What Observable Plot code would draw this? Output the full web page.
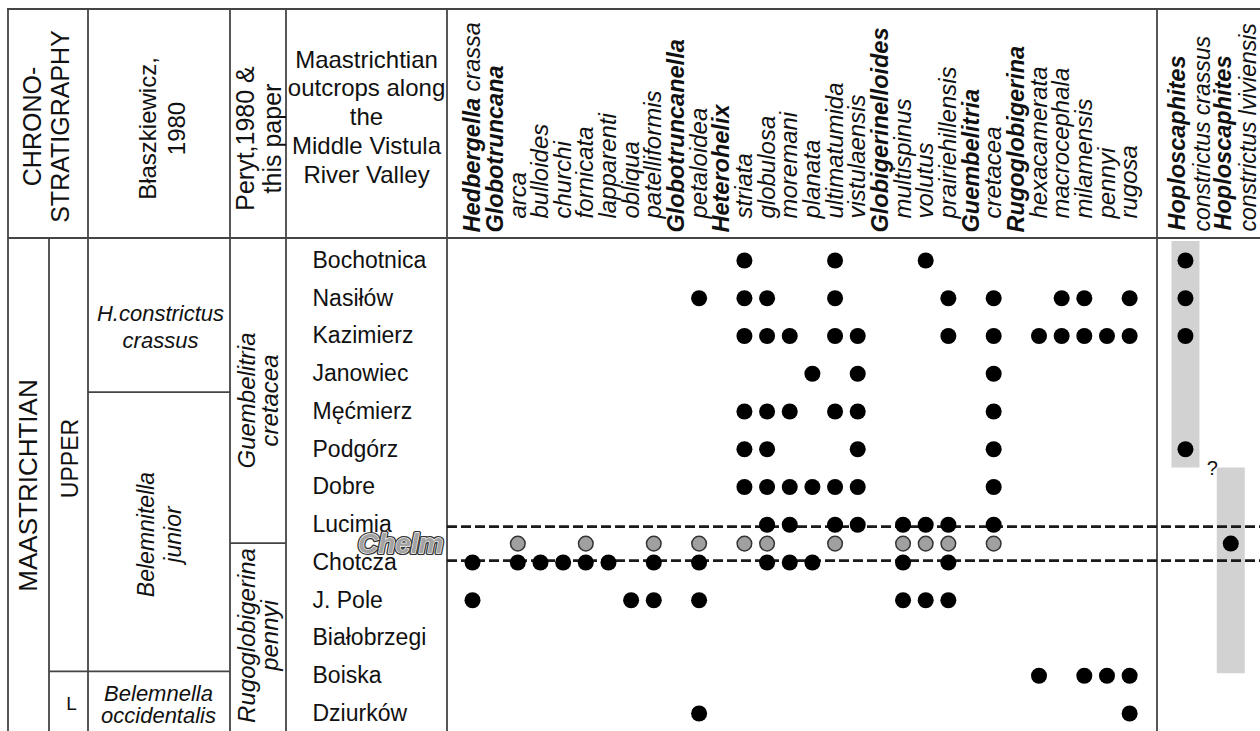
<!DOCTYPE html>
<html>
<head>
<meta charset="utf-8">
<script src="https://cdn.jsdelivr.net/npm/d3@7"></script>
<script src="https://cdn.jsdelivr.net/npm/@observablehq/plot@0.6"></script>
<style>
  html, body { margin: 0; padding: 0; background: #fff; }
  #chart { position: relative; width: 1260px; height: 731px; overflow: hidden; }
</style>
</head>
<body>
<div id="chart"></div>
<script>
// ---------------- DATA ----------------
const outcrops = ["Bochotnica", "Nasiłów", "Kazimierz", "Janowiec", "Męćmierz", "Podgórz", "Dobre",
  "Lucimia", "Chotcza", "J. Pole", "Białobrzegi", "Boiska", "Dziurków"];
const chelm = "Chelm";
const chelmBetween = ["Lucimia", "Chotcza"];
const chelmBedHalf = 0.45;

const foramColumns = ["Hedbergella crassa", "Globotruncana", "arca", "bulloides", "churchi", "fornicata",
  "lapparenti", "obliqua", "patelliformis", "Globotruncanella", "petaloidea", "Heterohelix", "striata",
  "globulosa", "moremani", "planata", "ultimatumida", "vistulaensis", "Globigerinelloides", "multispinus",
  "volutus", "prairiehillensis", "Guembelitria", "cretacea", "Rugoglobigerina", "hexacamerata",
  "macrocephala", "milamensis", "pennyi", "rugosa"];
const genera = ["Hedbergella crassa", "Globotruncana", "Globotruncanella", "Heterohelix",
  "Globigerinelloides", "Guembelitria", "Rugoglobigerina"];

const ammoniteTaxa = ["H. constrictus crassus", "H. constrictus lviviensis"];
const ammoniteGenus = ["Hoploscaphites", "Hoploscaphites"];
const ammoniteSpecies = ["constrictus crassus", "constrictus lviviensis"];

const occurrences = [
  ["Bochotnica", ["striata", "ultimatumida", "volutus"]],
  ["Nasiłów", ["petaloidea", "striata", "globulosa", "ultimatumida", "prairiehillensis", "cretacea", "macrocephala", "milamensis", "rugosa"]],
  ["Kazimierz", ["striata", "globulosa", "moremani", "ultimatumida", "vistulaensis", "prairiehillensis", "cretacea", "hexacamerata", "macrocephala", "milamensis", "pennyi", "rugosa"]],
  ["Janowiec", ["planata", "vistulaensis", "cretacea"]],
  ["Męćmierz", ["striata", "globulosa", "moremani", "ultimatumida", "vistulaensis", "cretacea"]],
  ["Podgórz", ["striata", "globulosa", "vistulaensis", "cretacea"]],
  ["Dobre", ["striata", "globulosa", "moremani", "planata", "ultimatumida", "vistulaensis", "cretacea"]],
  ["Lucimia", ["globulosa", "moremani", "ultimatumida", "vistulaensis", "multispinus", "volutus", "prairiehillensis", "cretacea"]],
  ["Chotcza", ["Hedbergella crassa", "arca", "bulloides", "churchi", "fornicata", "lapparenti", "patelliformis", "petaloidea", "globulosa", "moremani", "planata", "multispinus", "prairiehillensis"]],
  ["J. Pole", ["Hedbergella crassa", "obliqua", "patelliformis", "petaloidea", "multispinus", "volutus", "prairiehillensis"]],
  ["Białobrzegi", []],
  ["Boiska", ["hexacamerata", "milamensis", "pennyi", "rugosa"]],
  ["Dziurków", ["petaloidea", "rugosa"]]
];
const chelmForams = ["arca", "fornicata", "patelliformis", "petaloidea", "striata", "globulosa",
  "ultimatumida", "multispinus", "volutus", "prairiehillensis", "cretacea"];

const ammoniteOccurrences = [
  {site: "Bochotnica", taxon: ammoniteTaxa[0]},
  {site: "Nasiłów", taxon: ammoniteTaxa[0]},
  {site: "Kazimierz", taxon: ammoniteTaxa[0]},
  {site: "Podgórz", taxon: ammoniteTaxa[0]},
  {site: "Chelm", taxon: ammoniteTaxa[1]}
];
// ranges in row levels (0 = Bochotnica ... 12 = Dziurków)
const ammoniteRanges = [
  {taxon: ammoniteTaxa[0], from: -0.5, to: 5.5, query: false},
  {taxon: ammoniteTaxa[1], from: 5.5, to: 10.95, query: true}
];
// zone boundaries (row levels)
const zoneBoundaries = {crassusJunior: 3.5, juniorOccidentalis: 10.9, guembelitriaRugoglobigerina: 7.5};

// ---------------- LAYOUT ----------------
const W = 1260, H = 731;
const L = {top: 9, headerBottom: 238, cLeft: 8, cUpper: 49, cBlasz: 88, cPeryt: 230, cOut: 286, cSpecies: 447, cAmmo: 1157};
const lineColor = "#444";
const font = "'Liberation Sans', Arial, Helvetica, sans-serif";

const rowOf = name => name === chelm
  ? d3.mean(chelmBetween, s => outcrops.indexOf(s))
  : outcrops.indexOf(name);

const dots = occurrences.flatMap(([site, taxa]) => taxa.map(taxon => ({site, taxon})));
const xDomain = [...foramColumns, "sep", ammoniteTaxa[0], "gap", ammoniteTaxa[1]];
const step = 22.66, x0 = 472;

const note = (text, x, y, o = {}) => Plot.text([text], {
  frameAnchor: "top-left", dx: x, dy: y, text: d => d, fontSize: 23, fill: "#111",
  textAnchor: "middle", lineAnchor: "middle", ...o
});

const plot = Plot.plot({
  width: W, height: H, margin: 0,
  x: {type: "point", domain: xDomain, padding: 0, round: false,
      range: [x0, x0 + (xDomain.length - 1) * step], axis: null},
  y: {domain: [-6.887, 12.477], range: [0, H], axis: null},
  style: {fontFamily: font, background: "white", overflow: "visible"},
  marks: [
    // ammonite ranges
    Plot.ruleX(ammoniteRanges, {x: "taxon", y1: "from", y2: "to", dx: 10.5, stroke: "#d2d2d2", strokeWidth: 28}),
    Plot.text(ammoniteRanges.filter(d => d.query), {x: "taxon", y: "from", dx: -8, text: () => "?", fontSize: 20, fill: "#111"}),
    // Chelm bed boundaries
    Plot.ruleY([rowOf(chelm) - chelmBedHalf, rowOf(chelm) + chelmBedHalf], {
      insetLeft: L.cSpecies, stroke: "#1a1a1a", strokeWidth: 2.6, strokeDasharray: "10,4"
    }),
    // occurrences
    Plot.dot(dots, {x: "taxon", y: d => rowOf(d.site), r: 8, fill: "#000"}),
    Plot.dot(chelmForams, {x: d => d, y: () => rowOf(chelm), r: 7.3, fill: "#a0a0a0", stroke: "#333", strokeWidth: 1.5}),
    Plot.dot(ammoniteOccurrences, {x: "taxon", y: d => rowOf(d.site), dx: 10.5, r: 8, fill: "#000"}),
    // species header labels
    Plot.text(foramColumns.filter(d => genera.includes(d)), {
      ariaLabel: "genus labels", x: d => d, frameAnchor: "top", dy: 232, rotate: -90,
      textAnchor: "start", lineAnchor: "middle",
      text: d => d, fontSize: 23.5, fontWeight: "bold", fontStyle: "italic", fill: "#111"
    }),
    Plot.text(foramColumns.filter(d => !genera.includes(d)), {
      x: d => d, frameAnchor: "top", dy: 218, rotate: -90, textAnchor: "start", lineAnchor: "middle",
      text: d => d, fontSize: 24, fontStyle: "italic", fill: "#111"
    }),
    Plot.text(ammoniteTaxa, {
      x: d => d, frameAnchor: "top", dy: 230, dx: 3, rotate: -90, textAnchor: "start", lineAnchor: "middle",
      text: (d, i) => ammoniteGenus[i], fontSize: 23.5, fontWeight: "bold", fontStyle: "italic", fill: "#111"
    }),
    Plot.text(ammoniteTaxa, {
      x: d => d, frameAnchor: "top", dy: 231, dx: 28, rotate: -90, textAnchor: "start", lineAnchor: "middle",
      text: (d, i) => ammoniteSpecies[i], fontSize: 23, fontStyle: "italic", fill: "#111"
    }),
    // outcrop names
    Plot.text(outcrops, {y: d => rowOf(d), frameAnchor: "left", dx: 312, textAnchor: "start", lineAnchor: "middle",
      text: d => d, fontSize: 23, fill: "#111"}),
    // Chelm label
    Plot.text([chelm], {y: () => rowOf(chelm), frameAnchor: "left", dx: 443, textAnchor: "end", lineAnchor: "middle",
      text: d => d, fontSize: 28, fontWeight: "bold", fontStyle: "italic", fill: "#333", stroke: "#333", strokeWidth: 4}),
    Plot.text([chelm], {y: () => rowOf(chelm), frameAnchor: "left", dx: 443, textAnchor: "end", lineAnchor: "middle",
      text: d => d, fontSize: 28, fontWeight: "bold", fontStyle: "italic", fill: "#a3a3a3", stroke: "#fff", strokeWidth: 1.3}),
    // left table texts
    note("CHRONO-\nSTRATIGRAPHY", 46, 126, {rotate: -90, fontSize: 25, lineHeight: 1.12}),
    note("Błaszkiewicz,\n1980", 161, 128, {rotate: -90, fontSize: 24, lineHeight: 1.17}),
    note("Peryt,1980 &\nthis paper", 258.5, 138, {rotate: -90, fontSize: 25, lineHeight: 1.08}),
    note("Maastrichtian\noutcrops along\nthe\nMiddle Vistula\nRiver Valley", 366, 115.5, {fontSize: 24, lineHeight: 1.2}),
    note("MAASTRICHTIAN", 28, 485, {rotate: -90, fontSize: 26}),
    note("UPPER", 70, 458, {rotate: -90, fontSize: 23}),
    note("L", 71, 703, {fontSize: 19}),
    note("H.constrictus\ncrassus", 160, 325, {fontStyle: "italic", fontSize: 22, lineHeight: 1.23}),
    note("Belemnitella\njunior", 158.5, 534, {rotate: -90, fontStyle: "italic", fontSize: 23, lineHeight: 1.17}),
    note("Belemnella\noccidentalis", 158, 704, {fontStyle: "italic", fontSize: 22, lineHeight: 1.0}),
    note("Guembelitria\ncretacea", 258.5, 400, {rotate: -90, fontStyle: "italic", fontSize: 24, lineHeight: 0.96}),
    note("Rugoglobigerina\npennyi", 258.5, 635, {rotate: -90, fontStyle: "italic", fontSize: 24, lineHeight: 0.96})
  ]
});

// mixed-weight label: bold genus + regular species
d3.select(plot).selectAll("text").filter(function () {
  return this.textContent === "Hedbergella crassa";
}).each(function () {
  const t = d3.select(this);
  t.text(null);
  t.append("tspan").attr("font-weight", "bold").text("Hedbergella");
  t.append("tspan").attr("font-weight", "normal").style("font-weight", "normal").text(" crassa");
});

// table frame drawn under the marks, row-based lines through the plot's y scale
const yS = plot.scale("y");
const g = d3.select(plot).insert("g", ":first-child").attr("stroke", lineColor).attr("stroke-width", 1.8).attr("fill", "none");
const hline = (x1, x2, y) => g.append("line").attr("x1", x1).attr("x2", x2).attr("y1", y).attr("y2", y);
const vline = (x, y1, y2) => g.append("line").attr("x1", x).attr("x2", x).attr("y1", y1).attr("y2", y2);
hline(L.cLeft - 1, W, L.top);
hline(L.cLeft, W, L.headerBottom);
[L.cLeft, L.cBlasz, L.cPeryt, L.cOut, L.cSpecies, L.cAmmo].forEach(x => vline(x, L.top, H));
vline(L.cUpper, L.headerBottom, H);
hline(L.cBlasz, L.cPeryt, yS.apply(zoneBoundaries.crassusJunior));
hline(L.cUpper, L.cPeryt, yS.apply(zoneBoundaries.juniorOccidentalis));
hline(L.cPeryt, L.cOut, yS.apply(zoneBoundaries.guembelitriaRugoglobigerina));
d3.select(plot).insert("rect", ":first-child").attr("width", W).attr("height", H).attr("fill", "#fff");

document.getElementById("chart").appendChild(plot);
</script>
</body>
</html>
